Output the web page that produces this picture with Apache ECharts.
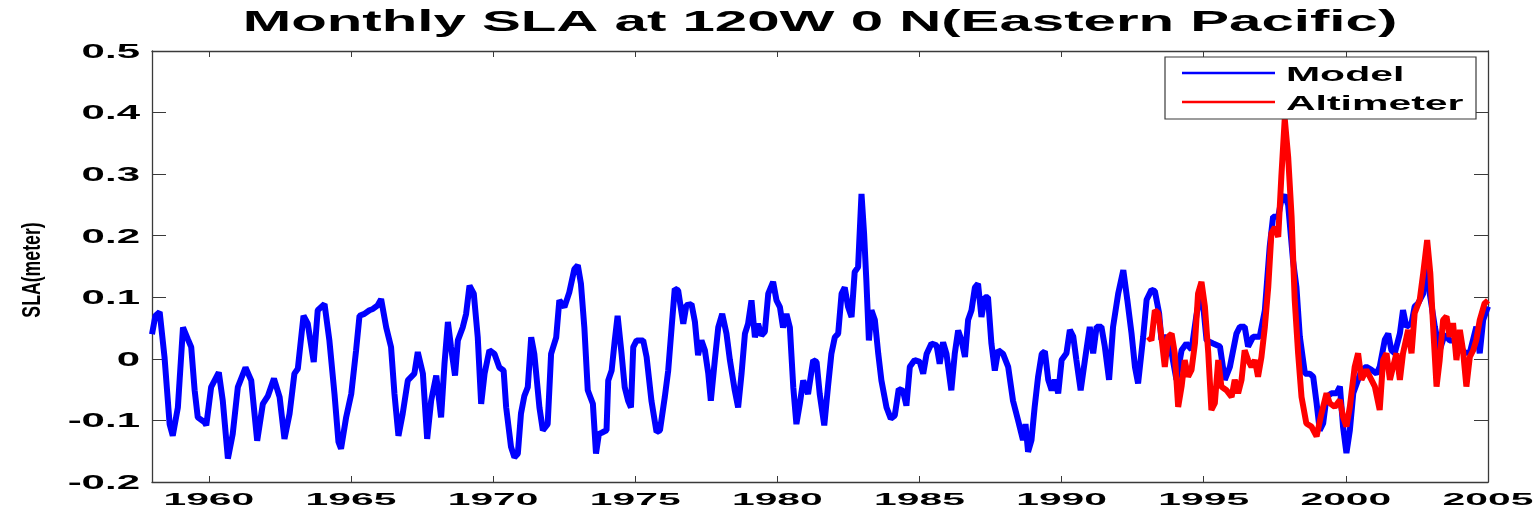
<!DOCTYPE html>
<html>
<head>
<meta charset="utf-8">
<title>Monthly SLA at 120W 0 N</title>
<script src="https://cdn.jsdelivr.net/npm/echarts@6/dist/echarts.min.js"></script>
<style>
  html, body { margin: 0; padding: 0; background: #ffffff; }
  #chart { width: 1538px; height: 513px; }
</style>
</head>
<body>
<div id="chart"></div>
<script>
// ---- Text ----
const titleText = 'Monthly SLA at 120W 0 N(Eastern Pacific)';
const yAxisName = 'SLA(meter)';
const seriesNames = ['Model', 'Altimeter'];

// ---- Axis ticks ----
const xTickValues = [1960, 1965, 1970, 1975, 1980, 1985, 1990, 1995, 2000, 2005];
const xTickLabels = ['1960', '1965', '1970', '1975', '1980', '1985', '1990', '1995', '2000', '2005'];
const yTickValues = [-0.2, -0.1, 0, 0.1, 0.2, 0.3, 0.4, 0.5];
const yTickLabels = ['-0.2', '-0.1', '0', '0.1', '0.2', '0.3', '0.4', '0.5'];

// ---- Model SLA (decimal year, metres) ----
const modelYears = [
  1958.00, 1958.12, 1958.27, 1958.44, 1958.62, 1958.73, 1958.91, 1959.09, 1959.26, 1959.38,
  1959.50, 1959.61, 1959.85, 1959.91, 1960.08, 1960.35, 1960.49, 1960.67, 1960.84, 1961.02,
  1961.29, 1961.49, 1961.70, 1961.90, 1962.08, 1962.29, 1962.49, 1962.66, 1962.84, 1963.01,
  1963.13, 1963.33, 1963.48, 1963.69, 1963.83, 1964.07, 1964.24, 1964.42, 1964.56, 1964.65,
  1964.83, 1965.01, 1965.18, 1965.30, 1965.47, 1965.65, 1965.77, 1965.94, 1966.06, 1966.24,
  1966.41, 1966.53, 1966.67, 1966.82, 1967.00, 1967.23, 1967.35, 1967.53, 1967.68, 1967.82,
  1968.00, 1968.17, 1968.29, 1968.41, 1968.52, 1968.66, 1968.76, 1968.93, 1969.05, 1969.17,
  1969.32, 1969.46, 1969.58, 1969.70, 1969.87, 1970.05, 1970.22, 1970.37, 1970.46, 1970.63,
  1970.75, 1970.87, 1970.98, 1971.10, 1971.22, 1971.34, 1971.45, 1971.63, 1971.75, 1971.92,
  1972.04, 1972.22, 1972.33, 1972.51, 1972.68, 1972.86, 1972.98, 1973.09, 1973.21, 1973.33,
  1973.51, 1973.62, 1973.72, 1973.82, 1973.99, 1974.05, 1974.17, 1974.28, 1974.38, 1974.52,
  1974.63, 1974.75, 1974.85, 1974.93, 1975.05, 1975.28, 1975.40, 1975.57, 1975.75, 1975.87,
  1976.04, 1976.16, 1976.28, 1976.39, 1976.51, 1976.69, 1976.80, 1976.98, 1977.10, 1977.21,
  1977.33, 1977.45, 1977.57, 1977.66, 1977.80, 1977.92, 1978.06, 1978.21, 1978.33, 1978.50,
  1978.62, 1978.74, 1978.86, 1978.97, 1979.09, 1979.21, 1979.32, 1979.44, 1979.56, 1979.68,
  1979.85, 1979.97, 1980.09, 1980.20, 1980.32, 1980.44, 1980.56, 1980.67, 1980.79, 1980.91,
  1981.08, 1981.26, 1981.38, 1981.49, 1981.65, 1981.79, 1981.90, 1982.02, 1982.14, 1982.26,
  1982.37, 1982.49, 1982.61, 1982.72, 1982.84, 1982.96, 1983.05, 1983.13, 1983.22, 1983.31,
  1983.43, 1983.55, 1983.66, 1983.84, 1983.99, 1984.13, 1984.27, 1984.42, 1984.54, 1984.66,
  1984.83, 1985.01, 1985.13, 1985.25, 1985.42, 1985.60, 1985.71, 1985.83, 1985.95, 1986.12,
  1986.24, 1986.36, 1986.48, 1986.60, 1986.71, 1986.83, 1986.95, 1987.06, 1987.18, 1987.30,
  1987.41, 1987.53, 1987.65, 1987.77, 1987.94, 1988.12, 1988.29, 1988.47, 1988.64, 1988.73,
  1988.82, 1988.94, 1989.05, 1989.17, 1989.30, 1989.41, 1989.53, 1989.65, 1989.76, 1989.88,
  1990.00, 1990.17, 1990.29, 1990.41, 1990.52, 1990.67, 1990.82, 1990.99, 1991.11, 1991.23,
  1991.40, 1991.52, 1991.67, 1991.81, 1991.99, 1992.17, 1992.31, 1992.46, 1992.58, 1992.69,
  1992.87, 1992.99, 1993.16, 1993.28, 1993.43, 1993.51, 1993.69, 1993.87, 1994.04, 1994.22,
  1994.39, 1994.57, 1994.74, 1994.92, 1995.10, 1995.33, 1995.57, 1995.74, 1995.92, 1996.15,
  1996.27, 1996.44, 1996.56, 1996.74, 1996.97, 1997.15, 1997.32, 1997.44, 1997.62, 1997.73,
  1997.85, 1997.97, 1998.14, 1998.26, 1998.38, 1998.56, 1998.73, 1998.85, 1998.97, 1999.08,
  1999.20, 1999.32, 1999.49, 1999.67, 1999.79, 1999.90, 2000.02, 2000.14, 2000.26, 2000.43,
  2000.55, 2000.72, 2000.90, 2001.08, 2001.19, 2001.37, 2001.49, 2001.60, 2001.72, 2001.90,
  2002.01, 2002.13, 2002.31, 2002.42, 2002.54, 2002.72, 2002.83, 2002.95, 2003.13, 2003.30,
  2003.48, 2003.65, 2003.83, 2004.01, 2004.18, 2004.36, 2004.59, 2004.71, 2004.83, 2005.00
];
const modelSLA = [
   0.040,  0.070,  0.076,  0.003, -0.106, -0.125, -0.079,  0.051,  0.032,  0.019,
  -0.051, -0.095, -0.103, -0.108, -0.046, -0.022, -0.068, -0.162, -0.122, -0.046,
  -0.014, -0.035, -0.133, -0.073, -0.060, -0.032, -0.062, -0.130, -0.089, -0.024,
  -0.016,  0.070,  0.057, -0.005,  0.079,  0.089,  0.030, -0.057, -0.135, -0.146,
  -0.095, -0.057,  0.014,  0.070,  0.073,  0.079,  0.081,  0.087,  0.097,  0.051,
   0.019, -0.057, -0.125, -0.089, -0.035, -0.024,  0.011, -0.024, -0.130, -0.068,
  -0.027, -0.095, -0.008,  0.060,  0.019, -0.027,  0.030,  0.051,  0.073,  0.119,
   0.106,  0.035, -0.073, -0.024,  0.014,  0.008, -0.014, -0.019, -0.079, -0.143,
  -0.160, -0.154, -0.089, -0.060, -0.046,  0.035,  0.008, -0.079, -0.116, -0.106,
   0.008,  0.035,  0.095,  0.084,  0.108,  0.146,  0.152,  0.122,  0.051, -0.051,
  -0.073, -0.154, -0.122, -0.120, -0.116, -0.035, -0.019,  0.030,  0.070,  0.008,
  -0.046, -0.068, -0.079,  0.019,  0.030,  0.030,  0.003, -0.068, -0.119, -0.116,
  -0.062, -0.019,  0.051,  0.114,  0.111,  0.057,  0.087,  0.089,  0.060,  0.006,
   0.030,  0.014, -0.024, -0.068, -0.002,  0.051,  0.073,  0.041, -0.002, -0.051,
  -0.079, -0.024,  0.041,  0.057,  0.095,  0.035,  0.057,  0.038,  0.044,  0.106,
   0.125,  0.095,  0.084,  0.051,  0.073,  0.051, -0.046, -0.106, -0.073, -0.035,
  -0.057, -0.002, -0.005, -0.057, -0.108, -0.041,  0.008,  0.035,  0.041,  0.106,
   0.116,  0.084,  0.068,  0.141,  0.149,  0.268,  0.204,  0.128,  0.030,  0.079,
   0.063,  0.008, -0.035, -0.079, -0.097, -0.092, -0.049, -0.052, -0.076, -0.013,
  -0.002, -0.005, -0.024,  0.008,  0.025,  0.022, -0.008,  0.027,  0.008, -0.051,
   0.008,  0.046,  0.030,  0.003,  0.063,  0.079,  0.116,  0.122,  0.068,  0.100,
   0.100,  0.025, -0.019,  0.014,  0.008, -0.013, -0.068, -0.100, -0.132, -0.106,
  -0.151, -0.132, -0.079, -0.030,  0.008,  0.012, -0.034, -0.051, -0.034, -0.056,
  -0.002,  0.009,  0.047,  0.036, -0.002, -0.051, -0.002,  0.052,  0.009,  0.052,
   0.052,  0.020, -0.034,  0.052,  0.106,  0.144,  0.096,  0.041, -0.013, -0.040,
   0.036,  0.096,  0.112,  0.110,  0.074,  0.031,  0.036,  0.009, -0.034,  0.014,
   0.025,  0.015,  0.070,  0.115,  0.030,  0.025,  0.020, -0.034, -0.013,  0.041,
   0.052,  0.052,  0.020,  0.036,  0.036,  0.079,  0.182,  0.231,  0.231,  0.258,
   0.266,  0.250,  0.160,  0.117,  0.036, -0.024, -0.024, -0.029, -0.072, -0.116,
  -0.105, -0.062, -0.056, -0.056, -0.045, -0.110, -0.153, -0.116, -0.056, -0.034,
  -0.018, -0.013, -0.018, -0.024, -0.013,  0.031,  0.041,  0.014,  0.009,  0.041,
   0.079,  0.052,  0.058,  0.085,  0.090,  0.106,  0.160,  0.106,  0.052,  0.014,
   0.040,  0.030,  0.030,  0.020,  0.010,  0.010,  0.052,  0.009,  0.063,  0.085
];

// ---- Altimeter SLA (decimal year, metres) ----
const altYears = [
  1993.05, 1993.16, 1993.28, 1993.40, 1993.51, 1993.63, 1993.75, 1993.87, 1993.98, 1994.10,
  1994.22, 1994.33, 1994.45, 1994.57, 1994.69, 1994.80, 1994.92, 1995.04, 1995.16, 1995.27,
  1995.39, 1995.51, 1995.62, 1995.80, 1995.98, 1996.09, 1996.21, 1996.33, 1996.44, 1996.56,
  1996.68, 1996.80, 1996.91, 1997.03, 1997.15, 1997.27, 1997.38, 1997.50, 1997.62, 1997.73,
  1997.85, 1997.97, 1998.09, 1998.20, 1998.32, 1998.44, 1998.61, 1998.79, 1998.97, 1999.14,
  1999.32, 1999.43, 1999.61, 1999.79, 1999.90, 2000.02, 2000.14, 2000.31, 2000.43, 2000.55,
  2000.72, 2000.90, 2001.02, 2001.19, 2001.31, 2001.43, 2001.55, 2001.66, 2001.78, 2001.90,
  2002.01, 2002.19, 2002.31, 2002.42, 2002.60, 2002.72, 2002.86, 2002.97, 2003.07, 2003.19,
  2003.30, 2003.42, 2003.54, 2003.65, 2003.77, 2003.89, 2004.01, 2004.12, 2004.24, 2004.36,
  2004.48, 2004.59, 2004.71, 2004.88, 2005.00
];
const altSLA = [
   0.036,  0.030,  0.079,  0.074,  0.036, -0.013,  0.036,  0.041,  0.009, -0.078,
  -0.045, -0.002, -0.029, -0.018,  0.025,  0.106,  0.125,  0.085,  0.009, -0.083,
  -0.072, -0.002, -0.045, -0.051, -0.062, -0.034, -0.056, -0.034,  0.014, -0.002,
  -0.013, -0.002, -0.029,  0.003,  0.052,  0.117,  0.204,  0.214,  0.198,  0.296,
   0.390,  0.328,  0.231,  0.096,  0.009, -0.062, -0.105, -0.110, -0.126, -0.089,
  -0.056, -0.072, -0.078, -0.067, -0.094, -0.110, -0.078, -0.013,  0.009, -0.034,
  -0.018, -0.034, -0.045, -0.083, -0.002,  0.009, -0.034, -0.013,  0.009, -0.034,
   0.009,  0.047,  0.009,  0.074,  0.096,  0.139,  0.193,  0.139,  0.052, -0.045,
  -0.002,  0.063,  0.069,  0.036,  0.058, -0.002,  0.047,  0.014, -0.045,  0.003,
   0.014,  0.031,  0.063,  0.090,  0.095
];

const seriesColors = ['#0000ff', '#ff0000'];
const axisColor = '#3a3a3a';
const textColor = '#000000';

const chart = echarts.init(document.getElementById('chart'), null, { renderer: 'canvas' });

function pairs(xs, ys) {
  return xs.map((x, i) => [x, ys[i]]);
}

function xAxisOpt(position) {
  return {
    type: 'value',
    position: position,
    min: 1958,
    max: 2005,
    splitNumber: 9,
    axisLine: { show: true, onZero: false, lineStyle: { color: axisColor, width: 1.3 } },
    axisTick: { show: true, inside: true, length: 6, lineStyle: { color: axisColor, width: 1 } },
    axisLabel: { show: false },
    splitLine: { show: false }
  };
}

function yAxisOpt(position) {
  return {
    type: 'value',
    position: position,
    min: -0.2,
    max: 0.5,
    interval: 0.1,
    axisLine: { show: true, onZero: false, lineStyle: { color: axisColor, width: 1.3 } },
    axisTick: { show: true, inside: true, length: 14, lineStyle: { color: axisColor, width: 1 } },
    axisLabel: { show: false },
    splitLine: { show: false }
  };
}

chart.setOption({
  animation: false,
  backgroundColor: '#ffffff',
  grid: { left: 152, right: 50, top: 51, bottom: 31, containLabel: false },
  xAxis: [xAxisOpt('bottom'), xAxisOpt('top')],
  yAxis: [yAxisOpt('left'), yAxisOpt('right')],
  series: [
    {
      name: seriesNames[0],
      type: 'line',
      xAxisIndex: 0,
      yAxisIndex: 0,
      data: pairs(modelYears, modelSLA),
      showSymbol: false,
      symbol: 'none',
      lineStyle: { color: seriesColors[0], width: 6, join: 'bevel' },
      itemStyle: { color: seriesColors[0] },
      z: 3
    },
    {
      name: seriesNames[1],
      type: 'line',
      xAxisIndex: 0,
      yAxisIndex: 0,
      data: pairs(altYears, altSLA),
      showSymbol: false,
      symbol: 'none',
      lineStyle: { color: seriesColors[1], width: 6, join: 'bevel' },
      itemStyle: { color: seriesColors[1] },
      z: 4
    }
  ]
});

// Wide bold lettering: the text is drawn as real text, widened with scaleX.
const fontFamily = '"Liberation Sans", Arial, Helvetica, sans-serif';

function wideText(text, x, y, size, scaleX, align, weight, extra) {
  return Object.assign({
    type: 'text',
    x: x,
    y: y,
    scaleX: scaleX,
    silent: true,
    z: 50,
    style: {
      text: text,
      x: 0,
      y: 0,
      fill: textColor,
      font: (weight || 'bold') + ' ' + size + 'px ' + fontFamily,
      align: align,
      verticalAlign: 'middle'
    }
  }, extra || {});
}

const gridRect = chart.getModel().getComponent('grid', 0).coordinateSystem.getRect();
const graphics = [];

// title, centred over the plot area
graphics.push(wideText(titleText, gridRect.x + gridRect.width / 2, 23, 30, 1.94, 'center'));

// x tick labels under the axis
xTickValues.forEach((v, i) => {
  const px = chart.convertToPixel({ xAxisIndex: 0 }, v);
  graphics.push(wideText(xTickLabels[i], px, gridRect.y + gridRect.height + 19, 16, 2.55, 'center'));
});

// y tick labels left of the axis
yTickValues.forEach((v, i) => {
  const py = chart.convertToPixel({ yAxisIndex: 0 }, v);
  graphics.push(wideText(yTickLabels[i], gridRect.x - 12, py + 1, 21, 2.0, 'right'));
});

// y axis name, reading upwards
graphics.push(wideText(yAxisName, 33, 270, 26, 0.68, 'center', 'bold', { rotation: Math.PI / 2 }));

// legend box in the upper right corner
const legendLeft = 1165, legendTop = 57, legendW = 311, legendH = 62;
const legendRows = [73, 102];
graphics.push({
  type: 'rect',
  silent: true,
  z: 40,
  shape: { x: legendLeft, y: legendTop, width: legendW, height: legendH },
  style: { fill: '#ffffff', stroke: axisColor, lineWidth: 1.2 }
});
seriesNames.forEach((name, i) => {
  graphics.push({
    type: 'line',
    silent: true,
    z: 45,
    shape: { x1: legendLeft + 17, y1: legendRows[i], x2: legendLeft + 110, y2: legendRows[i] },
    style: { stroke: seriesColors[i], lineWidth: 2.6 }
  });
  graphics.push(wideText(name, legendLeft + 121, legendRows[i] + 2.5, 21, 1.95, 'left'));
});

chart.setOption({ graphic: graphics });
</script>
</body>
</html>
